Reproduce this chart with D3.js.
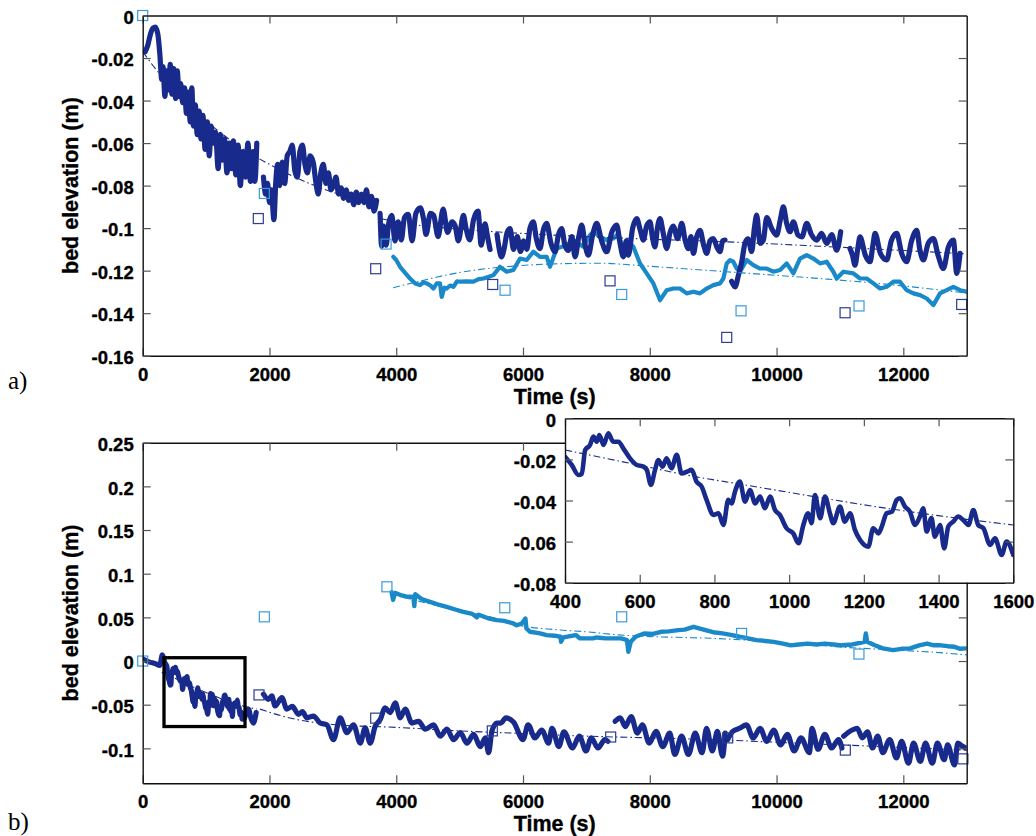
<!DOCTYPE html>
<html><head><meta charset="utf-8">
<script src="https://cdn.jsdelivr.net/npm/d3@7"></script>
<style>
body{margin:0;background:#fff;}
text{font-family:"Liberation Sans",Arial,sans-serif;font-weight:bold;fill:#000;}
.axis .domain{stroke:#111;stroke-width:1.4;}
.axis line{stroke:#555;stroke-width:1.2;}
.axis text{font-size:18.5px;font-family:"Liberation Sans",Arial,sans-serif;font-weight:bold;stroke:#000;stroke-width:0.35px;}
.title{stroke:#000;stroke-width:0.35px;}
</style></head>
<body>
<svg id="chart" width="1036" height="836"></svg>
<script>
// ---------- tick values ----------
const timeTicks = [0, 2000, 4000, 6000, 8000, 10000, 12000];
const aYTicks = [0, -0.02, -0.04, -0.06, -0.08, -0.1, -0.12, -0.14, -0.16];
const bYTicks = [0.25, 0.2, 0.15, 0.1, 0.05, 0, -0.05, -0.1];
const insetXTicks = [400, 600, 800, 1000, 1200, 1400, 1600];
const insetYTicks = [0, -0.02, -0.04, -0.06, -0.08];

// ---------- panel a : dark series (segments of [time s, bed elevation m]) ----------
const aDarkSeg1 = [[40,-0.017],[80,-0.014],[120,-0.009],[160,-0.006],[200,-0.0055],[240,-0.009],[270,-0.018],[300,-0.030],[320,-0.024],[350,-0.038],[380,-0.026],[410,-0.035],[435,-0.023],[460,-0.037],[490,-0.025],[520,-0.039],[545,-0.026],[575,-0.038],[600,-0.032],[630,-0.041],[660,-0.034],[690,-0.046],[720,-0.036],[750,-0.050],[775,-0.034],[800,-0.052],[830,-0.042],[860,-0.056],[890,-0.045],[920,-0.058],[950,-0.047],[985,-0.063],[1020,-0.050],[1050,-0.066],[1080,-0.052],[1115,-0.060],[1150,-0.055],[1190,-0.072],[1225,-0.056],[1260,-0.068],[1290,-0.058],[1330,-0.074],[1365,-0.060],[1400,-0.072],[1430,-0.059],[1470,-0.075],[1505,-0.061],[1540,-0.080],[1580,-0.064],[1620,-0.076],[1660,-0.060],[1700,-0.078],[1740,-0.064],[1770,-0.078],[1800,-0.060]];
const aDarkSeg2 = [[1905,-0.076],[1940,-0.084],[1970,-0.079],[2000,-0.088],[2030,-0.082],[2070,-0.096],[2100,-0.078],[2130,-0.070],[2160,-0.080],[2200,-0.069],[2240,-0.079],[2280,-0.066],[2320,-0.064],[2360,-0.061],[2400,-0.073],[2440,-0.076],[2480,-0.064],[2520,-0.061],[2560,-0.070],[2600,-0.074],[2640,-0.066],[2690,-0.069],[2730,-0.078],[2770,-0.084],[2810,-0.074],[2850,-0.070],[2890,-0.079],[2930,-0.074],[2970,-0.082],[3010,-0.080],[3050,-0.076],[3090,-0.084],[3130,-0.081],[3170,-0.086],[3210,-0.082],[3250,-0.087],[3290,-0.084],[3330,-0.089],[3370,-0.083],[3410,-0.088],[3450,-0.084],[3490,-0.088],[3530,-0.082],[3570,-0.090],[3610,-0.085],[3650,-0.092],[3690,-0.087]];
const aDarkSeg3 = [[3745,-0.093],[3770,-0.1085],[3800,-0.099],[3840,-0.108],[3880,-0.098],[3930,-0.094],[3980,-0.106],[4030,-0.097],[4080,-0.1055],[4130,-0.095],[4190,-0.0935],[4250,-0.106],[4310,-0.093],[4380,-0.0905],[4430,-0.0955],[4470,-0.103],[4540,-0.093],[4590,-0.094],[4660,-0.104],[4740,-0.091],[4810,-0.102],[4880,-0.097],[4930,-0.099],[4980,-0.106],[5060,-0.094],[5100,-0.100],[5160,-0.1055],[5220,-0.096],[5290,-0.092],[5340,-0.108],[5400,-0.098],[5440,-0.104],[5480,-0.110]];
const aDarkSeg4 = [[5590,-0.103],[5620,-0.109],[5660,-0.1135],[5700,-0.110],[5750,-0.102],[5795,-0.1002],[5850,-0.110],[5910,-0.104],[5960,-0.111],[6010,-0.106],[6060,-0.110],[6110,-0.100],[6163,-0.097],[6210,-0.105],[6268,-0.1096],[6320,-0.101],[6373,-0.0978],[6440,-0.107],[6505,-0.1111],[6560,-0.103],[6610,-0.1002],[6660,-0.108],[6715,-0.1105],[6770,-0.104],[6821,-0.1135],[6880,-0.104],[6926,-0.0986],[6980,-0.108],[7031,-0.1127],[7100,-0.103],[7163,-0.0978],[7240,-0.106],[7320,-0.1111],[7400,-0.102],[7478,-0.0986],[7530,-0.107],[7583,-0.1135],[7630,-0.106],[7662,-0.1127],[7730,-0.100],[7794,-0.0955],[7850,-0.101],[7899,-0.1056],[7950,-0.099],[8004,-0.097],[8040,-0.104],[8083,-0.1088],[8120,-0.100],[8162,-0.0955],[8210,-0.102],[8267,-0.1096],[8320,-0.102],[8370,-0.099],[8440,-0.105],[8504,-0.0978],[8560,-0.106],[8609,-0.1096],[8650,-0.104],[8688,-0.1119],[8740,-0.104],[8793,-0.1010],[8850,-0.108],[8898,-0.1119],[8950,-0.106],[9003,-0.1049],[9060,-0.109],[9108,-0.1111],[9150,-0.106],[9187,-0.1056]];
const aDarkSeg5 = [[9290,-0.125],[9345,-0.1276],[9400,-0.122],[9450,-0.116],[9503,-0.107],[9550,-0.105],[9608,-0.111],[9650,-0.100],[9687,-0.0939],[9740,-0.1072],[9792,-0.1056],[9845,-0.095],[9923,-0.1002],[10002,-0.1033],[10060,-0.096],[10107,-0.090],[10160,-0.0978],[10213,-0.1017],[10265,-0.097],[10340,-0.1033],[10400,-0.1041],[10476,-0.0978],[10550,-0.103],[10633,-0.1056],[10710,-0.1025],[10791,-0.1072],[10870,-0.103],[10949,-0.1104],[11012,-0.1017]];
const aDarkSeg6 = [[11159,-0.1096],[11200,-0.113],[11238,-0.1174],[11280,-0.110],[11317,-0.1041],[11400,-0.1127],[11475,-0.1158],[11520,-0.108],[11554,-0.1025],[11640,-0.112],[11738,-0.1150],[11810,-0.106],[11896,-0.1025],[11975,-0.112],[12053,-0.1158],[12130,-0.106],[12211,-0.1010],[12260,-0.110],[12316,-0.1150],[12395,-0.107],[12474,-0.1049],[12550,-0.113],[12632,-0.1190],[12710,-0.109],[12790,-0.1056],[12843,-0.1213],[12895,-0.1119]];

// ---------- panel a : light series ----------
const aLight = [[3954,-0.1135],[4000,-0.115],[4060,-0.1182],[4140,-0.121],[4218,-0.1237],[4300,-0.126],[4375,-0.1268],[4430,-0.1255],[4481,-0.1260],[4540,-0.127],[4586,-0.1284],[4640,-0.126],[4691,-0.1260],[4717,-0.1323],[4760,-0.128],[4796,-0.1284],[4850,-0.127],[4902,-0.1276],[4960,-0.125],[5007,-0.1252],[5110,-0.125],[5218,-0.1252],[5300,-0.124],[5375,-0.1237],[5450,-0.123],[5533,-0.1221],[5637,-0.1182],[5743,-0.1205],[5848,-0.1197],[5953,-0.1143],[6058,-0.1150],[6163,-0.1111],[6268,-0.1135],[6374,-0.1135],[6426,-0.1182],[6531,-0.1096],[6689,-0.1080],[6794,-0.1056],[6952,-0.1088],[7057,-0.1033],[7110,-0.1017],[7215,-0.1041],[7320,-0.1056],[7425,-0.1049],[7504,-0.1025],[7583,-0.1104],[7688,-0.1072],[7741,-0.1088],[7846,-0.1166],[7951,-0.1213],[8057,-0.1260],[8162,-0.1339],[8267,-0.1292],[8372,-0.1284],[8477,-0.1284],[8582,-0.1307],[8688,-0.1299],[8793,-0.1307],[8898,-0.1284],[9003,-0.1268],[9109,-0.1260],[9161,-0.1237],[9214,-0.1166],[9266,-0.1150],[9319,-0.1158],[9371,-0.1190],[9424,-0.1205],[9529,-0.1150],[9634,-0.1174],[9739,-0.1190],[9845,-0.1190],[9950,-0.1205],[10055,-0.1197],[10160,-0.1166],[10265,-0.1213],[10370,-0.1143],[10476,-0.1127],[10581,-0.1143],[10686,-0.1166],[10791,-0.1158],[10896,-0.1205],[10949,-0.1237],[11054,-0.1205],[11212,-0.1213],[11317,-0.1237],[11422,-0.1237],[11528,-0.1260],[11633,-0.1284],[11738,-0.1276],[11843,-0.1252],[11948,-0.1252],[12053,-0.1292],[12159,-0.1307],[12264,-0.1315],[12369,-0.1331],[12474,-0.1362],[12579,-0.1307],[12684,-0.1292],[12790,-0.1276],[12895,-0.1292],[13000,-0.1299]];

// ---------- panel a : fitted trends (dash-dot) ----------
const aDarkFit1 = [[0,-0.017],[200,-0.025],[500,-0.035],[800,-0.044],[1100,-0.052],[1400,-0.059],[1700,-0.065],[2000,-0.070],[2400,-0.076],[2800,-0.081],[3200,-0.085],[3650,-0.088]];
const aDarkFit2 = [[3750,-0.0955],[4200,-0.098],[5000,-0.1005],[6000,-0.1025],[7000,-0.104],[8000,-0.1052],[9000,-0.1062],[10000,-0.1075],[11000,-0.109],[12000,-0.1105],[12950,-0.112]];
const aLightFit = [[3950,-0.128],[4300,-0.1255],[4800,-0.122],[5300,-0.1195],[5800,-0.118],[6500,-0.1168],[7200,-0.1165],[7800,-0.1175],[8500,-0.119],[9200,-0.1205],[10000,-0.1222],[10800,-0.124],[11600,-0.126],[12400,-0.1285],[13000,-0.1305]];

// ---------- panel a : survey squares ----------
const aDarkSquares = [[1824,-0.0955],[3676,-0.1191],[5522,-0.1265],[7373,-0.1248],[9214,-0.1514],[11081,-0.1398],[12921,-0.1359]];
const aLightSquares = [[0,0],[1919,-0.0837],[3840,-0.1075],[5717,-0.1292],[7557,-0.1312],[9440,-0.1389],[11301,-0.1366]];

// ---------- inset (detail of panel b, 400-1600 s) ----------
const insetDark = [[400,-0.0187],[418,-0.0227],[436,-0.0276],[445,-0.0270],[454,-0.0154],[467,-0.0130],[476,-0.0089],[485,-0.0114],[492,-0.0081],[503,-0.0130],[516,-0.0073],[529,-0.0114],[543,-0.0114],[556,-0.0146],[574,-0.0195],[592,-0.0227],[610,-0.0235],[619,-0.0251],[630,-0.0324],[641,-0.0251],[650,-0.0203],[661,-0.0235],[672,-0.0195],[685,-0.0243],[699,-0.0178],[712,-0.0268],[726,-0.0260],[739,-0.0251],[752,-0.0308],[766,-0.0333],[779,-0.0397],[797,-0.0470],[811,-0.0462],[824,-0.0519],[837,-0.0397],[846,-0.0414],[855,-0.0357],[868,-0.0308],[882,-0.0406],[895,-0.0349],[909,-0.0414],[922,-0.0381],[935,-0.0438],[949,-0.0381],[962,-0.0446],[975,-0.0470],[993,-0.0535],[1011,-0.0560],[1025,-0.0608],[1038,-0.0519],[1051,-0.0462],[1060,-0.0511],[1069,-0.0373],[1083,-0.0486],[1096,-0.0381],[1109,-0.0462],[1118,-0.0511],[1136,-0.0430],[1149,-0.0503],[1163,-0.0462],[1176,-0.0543],[1190,-0.0592],[1212,-0.0625],[1225,-0.0535],[1239,-0.0560],[1248,-0.0527],[1261,-0.0462],[1275,-0.0454],[1288,-0.0397],[1297,-0.0389],[1310,-0.0430],[1323,-0.0454],[1337,-0.0519],[1350,-0.0478],[1359,-0.0438],[1368,-0.0551],[1381,-0.0486],[1390,-0.0576],[1404,-0.0519],[1415,-0.0633],[1426,-0.0527],[1439,-0.0503],[1453,-0.0478],[1466,-0.0495],[1480,-0.0519],[1493,-0.0446],[1506,-0.0519],[1520,-0.0535],[1538,-0.0616],[1551,-0.0584],[1569,-0.0665],[1582,-0.0600],[1600,-0.0665]];
const insetFit = [[400,-0.0154],[574,-0.0219],[752,-0.0285],[868,-0.0320],[1047,-0.0375],[1225,-0.0428],[1404,-0.0475],[1600,-0.0519]];

// ---------- panel b : dark series ----------
const bDarkStart = [[10,0.002],[100,-0.001],[200,-0.003],[270,-0.005],[310,0.007],[350,-0.002],[380,-0.006]];
const bDarkEnd1 = [[1630,-0.060],[1668,-0.055],[1710,-0.066],[1747,-0.071],[1790,-0.059]];
const bDarkSeg2 = [[1905,-0.038],[1984,-0.044],[2037,-0.040],[2089,-0.0515],[2195,-0.042],[2274,-0.055],[2360,-0.052],[2458,-0.061],[2520,-0.058],[2589,-0.065],[2695,-0.063],[2800,-0.071],[2905,-0.073],[3010,-0.090],[3116,-0.065],[3221,-0.082],[3326,-0.073],[3432,-0.094],[3510,-0.0765],[3589,-0.094],[3668,-0.0746],[3747,-0.067],[3826,-0.0535],[3905,-0.059],[3984,-0.048],[4063,-0.065],[4142,-0.055],[4247,-0.071],[4353,-0.069],[4458,-0.078],[4589,-0.073],[4695,-0.086],[4800,-0.078],[4905,-0.090],[5010,-0.082],[5116,-0.094],[5221,-0.084],[5326,-0.098],[5405,-0.088],[5458,-0.105],[5510,-0.080],[5589,-0.071],[5650,-0.071],[5730,-0.065],[5853,-0.070],[6000,-0.090],[6081,-0.073],[6188,-0.088],[6296,-0.079],[6404,-0.094],[6457,-0.077],[6565,-0.098],[6646,-0.081],[6780,-0.0996],[6888,-0.086],[6995,-0.103],[7076,-0.088],[7184,-0.0996],[7291,-0.090],[7340,-0.092]];
const bDarkSeg4 = [[7453,-0.069],[7534,-0.065],[7614,-0.075],[7706,-0.0635],[7803,-0.0825],[7883,-0.073],[7991,-0.094],[8099,-0.0806],[8206,-0.098],[8314,-0.0825],[8395,-0.107],[8502,-0.086],[8610,-0.107],[8717,-0.0825],[8825,-0.105],[8895,-0.077],[8986,-0.103],[9067,-0.0806],[9148,-0.109],[9190,-0.0825]];
const bDarkSeg5 = [[9229,-0.090],[9309,-0.0806],[9417,-0.077],[9525,-0.073],[9632,-0.088],[9740,-0.077],[9847,-0.092],[9955,-0.079],[10063,-0.096],[10170,-0.084],[10278,-0.103],[10385,-0.088],[10520,-0.105],[10557,-0.077],[10655,-0.101],[10762,-0.084],[10870,-0.0996],[10977,-0.090],[11031,-0.0996]];
const bDarkSeg6 = [[11058,-0.086],[11193,-0.079],[11273,-0.077],[11354,-0.088],[11435,-0.081],[11515,-0.0996],[11596,-0.086],[11677,-0.105],[11785,-0.090],[11892,-0.111],[11973,-0.092],[12081,-0.117],[12161,-0.094],[12269,-0.115],[12350,-0.094],[12457,-0.117],[12538,-0.094],[12645,-0.113],[12699,-0.096],[12807,-0.119],[12860,-0.094],[12941,-0.098],[12995,-0.100]];

// ---------- panel b : light series ----------
const bLight = [[3927,0.079],[3950,0.070],[3980,0.078],[4068,0.0756],[4150,0.074],[4270,0.0734],[4285,0.063],[4300,0.0765],[4400,0.071],[4533,0.0677],[4650,0.065],[4796,0.062],[4930,0.059],[5059,0.0563],[5200,0.054],[5270,0.050],[5300,0.053],[5450,0.049],[5585,0.0468],[5700,0.046],[5848,0.043],[5900,0.041],[5980,0.043],[6038,0.0487],[6054,0.0373],[6111,0.0335],[6250,0.032],[6374,0.0297],[6500,0.029],[6592,0.0278],[6600,0.022],[6637,0.027],[6834,0.0297],[6900,0.0259],[7103,0.0259],[7163,0.027],[7300,0.026],[7426,0.0259],[7550,0.026],[7640,0.024],[7662,0.0106],[7700,0.022],[7776,0.0278],[7910,0.0316],[8050,0.031],[8179,0.0335],[8300,0.034],[8448,0.0354],[8550,0.036],[8690,0.0392],[8879,0.0354],[9000,0.033],[9148,0.0316],[9280,0.030],[9417,0.0278],[9550,0.026],[9686,0.024],[9820,0.023],[9955,0.022],[10100,0.020],[10224,0.018],[10350,0.019],[10493,0.020],[10630,0.019],[10762,0.020],[10900,0.019],[11031,0.018],[11200,0.019],[11390,0.022],[11408,0.0316],[11430,0.022],[11550,0.018],[11677,0.0145],[11838,0.0125],[11970,0.014],[12107,0.0145],[12250,0.018],[12376,0.020],[12480,0.018],[12591,0.018],[12700,0.017],[12807,0.0163],[12900,0.014],[12995,0.0145]];

// ---------- panel b : fits, squares, highlighted window ----------
const bDarkFit1 = [[300,-0.013],[574,-0.0219],[752,-0.0285],[868,-0.0320],[1047,-0.0375],[1225,-0.0428],[1404,-0.0475],[1600,-0.0519],[1800,-0.055]];
const bDarkFit2 = [[1850,-0.055],[2200,-0.063],[3000,-0.0727],[4000,-0.076],[5000,-0.080],[6000,-0.083],[7000,-0.086],[8000,-0.088],[9000,-0.090],[10000,-0.093],[11000,-0.096],[12000,-0.099],[13000,-0.102]];
const bLightFit = [[3900,0.077],[4500,0.066],[5000,0.058],[5500,0.050],[6000,0.040],[6500,0.036],[7000,0.0335],[7500,0.030],[8000,0.028],[8500,0.027],[9000,0.026],[9500,0.024],[10000,0.021],[10500,0.019],[11000,0.016],[11500,0.014],[12000,0.012],[12500,0.010],[13000,0.007]];
const bDarkSquares = [[1835,-0.0388],[3676,-0.0654],[5516,-0.080],[7383,-0.087],[9229,-0.088],[11085,-0.102],[12940,-0.112]];
const bLightSquares = [[0,0],[1919,0.0506],[3853,0.085],[5712,0.061],[7557,0.0506],[9449,0.0316],[11300,0.008]];
const zoomWindow = {t0: 336, t1: 1614, v0: -0.075, v1: 0.0038};

// ---------- drawing ----------
const DARK = "#182a8c", LIGHT = "#1a89c9", DARK_SQ = "#2c3c92", LIGHT_SQ = "#3a9bd8";
const svg = d3.select("#chart");
svg.append("rect").attr("width",1036).attr("height",836).attr("fill","#fff");

function axes(g, x, y, xt, yt) {
  const [x0, x1] = x.range(), [yb, yt0] = y.range();
  g.append("g").attr("class","axis").attr("transform",`translate(0,${yb})`)
    .call(d3.axisBottom(x).tickValues(xt).tickSizeInner(-8).tickSizeOuter(0).tickPadding(12).tickFormat(d => String(d)));
  g.append("g").attr("class","axis").attr("transform",`translate(0,${yt0})`)
    .call(d3.axisTop(x).tickValues(xt).tickSizeInner(-8).tickSizeOuter(0).tickFormat(""));
  const la = g.append("g").attr("class","axis").attr("transform",`translate(${x0},0)`)
    .call(d3.axisLeft(y).tickValues(yt).tickSizeInner(-8).tickSizeOuter(0).tickPadding(9).tickFormat(d => String(d)));
  la.selectAll("text").attr("dy","0.42em");
  g.append("g").attr("class","axis").attr("transform",`translate(${x1},0)`)
    .call(d3.axisRight(y).tickValues(yt).tickSizeInner(-8).tickSizeOuter(0).tickFormat(""));
}

function clip(id, x, y) {
  const [x0,x1] = x.range(), [y0,y1] = y.range();
  svg.append("clipPath").attr("id", id).append("rect")
    .attr("x", x0).attr("y", y1).attr("width", x1-x0).attr("height", y0-y1);
}

function lines(g, x, y, segs, color, w, curve) {
  const ln = d3.line().x(d => x(d[0])).y(d => y(d[1])).curve(curve || d3.curveLinear);
  g.selectAll(null).data(segs).enter().append("path")
    .attr("d", ln).attr("fill","none").attr("stroke", color).attr("stroke-width", w)
    .attr("stroke-linejoin","round").attr("stroke-linecap","round");
}
function fits(g, x, y, segs, color) {
  const ln = d3.line().x(d => x(d[0])).y(d => y(d[1])).curve(d3.curveMonotoneX);
  g.selectAll(null).data(segs).enter().append("path")
    .attr("d", ln).attr("fill","none").attr("stroke", color).attr("stroke-width", 1.1)
    .attr("stroke-dasharray","7,3,1.5,3");
}
function squares(g, x, y, pts, color) {
  g.selectAll(null).data(pts).enter().append("rect")
    .attr("x", d => x(d[0]) - 5).attr("y", d => y(d[1]) - 5)
    .attr("width", 10).attr("height", 10)
    .attr("fill","none").attr("stroke", color).attr("stroke-width", 1.2);
}

// ----- panel a -----
const xa = d3.scaleLinear().domain([0, 13000]).range([142.7, 966.7]);
const ya = d3.scaleLinear().domain([-0.16, 0]).range([355.7, 15.5]);
clip("clipA", xa, ya);
const ga = svg.append("g");
const pa = ga.append("g").attr("clip-path","url(#clipA)");
lines(pa, xa, ya, [aLight], LIGHT, 4.2);
lines(pa, xa, ya, [aDarkSeg1, aDarkSeg2, aDarkSeg3, aDarkSeg4, aDarkSeg5, aDarkSeg6], DARK, 5.2, d3.curveMonotoneX);
fits(pa, xa, ya, [aDarkFit1, aDarkFit2], DARK);
fits(pa, xa, ya, [aLightFit], LIGHT);
squares(ga, xa, ya, aDarkSquares, DARK_SQ);
squares(ga, xa, ya, aLightSquares, LIGHT_SQ);
axes(ga, xa, ya, timeTicks, aYTicks);
ga.append("text").attr("class","title").attr("x", 554.7).attr("y", 403.5).attr("text-anchor","middle").attr("font-size","21.5px").text("Time (s)");
ga.append("text").attr("class","title").attr("transform","translate(78,185.6) rotate(-90)").attr("text-anchor","middle").attr("font-size","21.5px").text("bed elevation (m)");
svg.append("text").attr("x", 8).attr("y", 389).attr("font-size","25px")
  .style("font-family","'Liberation Serif','Times New Roman',serif").style("font-weight","normal").text("a)");

// ----- panel b -----
const xb = d3.scaleLinear().domain([0, 13000]).range([142.7, 966.7]);
const yb = d3.scaleLinear().domain([-0.14, 0.25]).range([783.3, 442.7]);
clip("clipB", xb, yb);
const gb = svg.append("g");
const pb = gb.append("g").attr("clip-path","url(#clipB)");
lines(pb, xb, yb, [bLight], LIGHT, 4.4);
lines(pb, xb, yb, [bDarkStart.concat(insetDark, bDarkEnd1), bDarkSeg2, bDarkSeg4, bDarkSeg5, bDarkSeg6], DARK, 5.2, d3.curveMonotoneX);
fits(pb, xb, yb, [bDarkFit1, bDarkFit2], DARK);
fits(pb, xb, yb, [bLightFit], LIGHT);
squares(gb, xb, yb, bDarkSquares, DARK_SQ);
squares(gb, xb, yb, bLightSquares, LIGHT_SQ);
gb.append("rect")
  .attr("x", xb(zoomWindow.t0)).attr("y", yb(zoomWindow.v1))
  .attr("width", xb(zoomWindow.t1) - xb(zoomWindow.t0)).attr("height", yb(zoomWindow.v0) - yb(zoomWindow.v1))
  .attr("fill","none").attr("stroke","#000").attr("stroke-width", 3.3);
axes(gb, xb, yb, timeTicks, bYTicks);
gb.append("text").attr("class","title").attr("x", 554.7).attr("y", 830.5).attr("text-anchor","middle").attr("font-size","21.5px").text("Time (s)");
gb.append("text").attr("class","title").attr("transform","translate(78,613) rotate(-90)").attr("text-anchor","middle").attr("font-size","21.5px").text("bed elevation (m)");
svg.append("text").attr("x", 8).attr("y", 830).attr("font-size","25px")
  .style("font-family","'Liberation Serif','Times New Roman',serif").style("font-weight","normal").text("b)");

// ----- inset -----
const xi = d3.scaleLinear().domain([400, 1600]).range([565, 1013.3]);
const yi = d3.scaleLinear().domain([-0.08, 0]).range([582.7, 418.3]);
clip("clipI", xi, yi);
const gi = svg.append("g");
gi.append("rect").attr("x", 565).attr("y", 418.3).attr("width", 1013.3-565).attr("height", 582.7-418.3).attr("fill","#fff");
const pi = gi.append("g").attr("clip-path","url(#clipI)");
fits(pi, xi, yi, [insetFit], DARK);
lines(pi, xi, yi, [insetDark], DARK, 4.6, d3.curveMonotoneX);
axes(gi, xi, yi, insetXTicks, insetYTicks);
</script>
</body></html>
